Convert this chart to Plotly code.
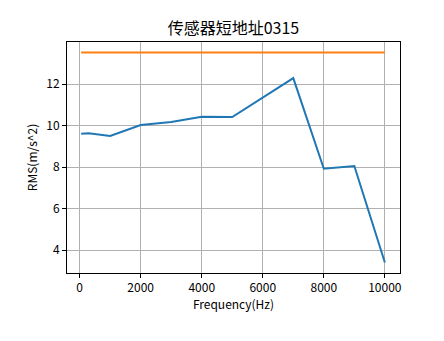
import plotly.graph_objects as go

freq = [50, 300, 1000, 2000, 3000, 4000, 5000, 7000, 8000, 9000, 10000]
rms = [9.61, 9.63, 9.50, 10.03, 10.17, 10.43, 10.41, 12.29, 7.92, 8.05, 3.40]
limit_x = [50, 10000]
limit_y = [13.52, 13.52]
x_ticks = [0, 2000, 4000, 6000, 8000, 10000]
x_labels = ["0", "2000", "4000", "6000", "8000", "10000"]
y_ticks = [4, 6, 8, 10, 12]

font = "Noto Sans CJK SC, DejaVu Sans, sans-serif"

fig = go.Figure()
fig.add_trace(go.Scatter(x=freq, y=rms, mode="lines",
                         line=dict(color="#1f77b4", width=2), showlegend=False))
fig.add_trace(go.Scatter(x=limit_x, y=limit_y, mode="lines",
                         line=dict(color="#ff7f0e", width=2), showlegend=False))

axis_common = dict(showline=True, linecolor="black", linewidth=1, mirror=True,
                   ticks="outside", ticklen=4, tickcolor="black", tickwidth=1,
                   showgrid=True, gridcolor="#b0b0b0", gridwidth=1, zeroline=False,
                   tickfont=dict(family=font, size=12, color="black"))

fig.update_layout(
    width=444, height=341,
    margin=dict(l=67, r=44, t=42, b=68),
    paper_bgcolor="white", plot_bgcolor="white",
    title=dict(text="传感器短地址0315", x=0.5, xanchor="center", y=0.918, yanchor="middle",
               xref="paper",
               font=dict(family=font, size=16, color="black")),
    xaxis=dict(range=[-414, 10496], tickvals=x_ticks, ticktext=x_labels,
               title=dict(text="Frequency(Hz)", font=dict(family=font, size=12, color="black"), standoff=6),
               **axis_common),
    yaxis=dict(range=[2.894, 14.03], tickvals=y_ticks,
               title=dict(text="RMS(m/s^2)", font=dict(family=font, size=12, color="black"), standoff=6),
               **axis_common),
)

fig.write_html("out.html")
